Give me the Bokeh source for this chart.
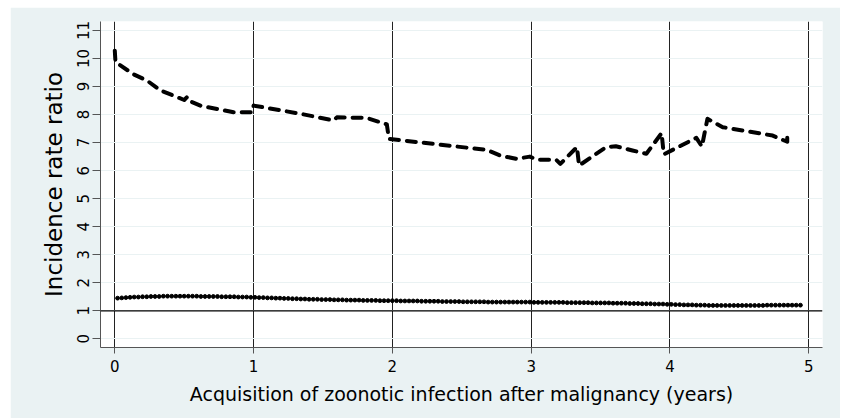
from bokeh.plotting import figure
from bokeh.models import FixedTicker, Span, Range1d
from bokeh.embed import file_html
from bokeh.resources import INLINE

# ---- data ----
x_ticks = [0, 1, 2, 3, 4, 5]
y_ticks = [0, 1, 2, 3, 4, 5, 6, 7, 8, 9, 10, 11]
ref_line_y = 1

irr_x = [0.0, 0.005, 0.137, 0.233, 0.33, 0.50, 0.52, 0.53, 0.617, 0.856, 0.99, 1.0,
         1.336, 1.576, 1.60, 1.816, 1.96, 1.975, 2.68, 2.775, 2.895, 2.99, 3.04,
         3.18, 3.21, 3.33, 3.345, 3.54, 3.61, 3.73, 3.83, 3.94, 3.955, 4.19, 4.23,
         4.27, 4.38, 4.60, 4.74, 4.845, 4.845]
irr_y = [10.28, 9.87, 9.43, 9.21, 8.86, 8.52, 8.62, 8.50, 8.32, 8.08, 8.08, 8.32,
         8.03, 7.79, 7.90, 7.88, 7.65, 7.13, 6.74, 6.54, 6.42, 6.50, 6.39,
         6.39, 6.24, 6.84, 6.18, 6.84, 6.87, 6.72, 6.60, 7.34, 6.58, 7.17, 6.86,
         7.85, 7.55, 7.37, 7.25, 7.03, 7.17]

ref_x = [0.02, 0.05, 0.08, 0.11, 0.14, 0.17, 0.20, 0.23, 0.26, 0.29, 0.32,
         0.35, 0.38, 0.41, 0.44, 0.47, 0.50, 0.53, 0.56, 0.59, 0.62, 0.65,
         0.68, 0.71, 0.74, 0.77, 0.80, 0.83, 0.86, 0.89, 0.92, 0.95, 0.98,
         1.01, 1.04, 1.07, 1.10, 1.13, 1.16, 1.19, 1.22, 1.25, 1.28, 1.31,
         1.34, 1.37, 1.40, 1.43, 1.46, 1.49, 1.52, 1.55, 1.58, 1.61, 1.64,
         1.67, 1.70, 1.73, 1.76, 1.79, 1.82, 1.85, 1.88, 1.91, 1.94, 1.97,
         2.00, 2.03, 2.06, 2.09, 2.12, 2.15, 2.18, 2.21, 2.24, 2.27, 2.30,
         2.33, 2.36, 2.39, 2.42, 2.45, 2.48, 2.51, 2.54, 2.57, 2.60, 2.63,
         2.66, 2.69, 2.72, 2.75, 2.78, 2.81, 2.84, 2.87, 2.90, 2.93, 2.96,
         2.99, 3.02, 3.05, 3.08, 3.11, 3.14, 3.17, 3.20, 3.23, 3.26, 3.29,
         3.32, 3.35, 3.38, 3.41, 3.44, 3.47, 3.50, 3.53, 3.56, 3.59, 3.62,
         3.65, 3.68, 3.71, 3.74, 3.77, 3.80, 3.83, 3.86, 3.89, 3.92, 3.95,
         3.98, 4.01, 4.04, 4.07, 4.10, 4.13, 4.16, 4.19, 4.22, 4.25, 4.28,
         4.31, 4.34, 4.37, 4.40, 4.43, 4.46, 4.49, 4.52, 4.55, 4.58, 4.61,
         4.64, 4.67, 4.70, 4.73, 4.76, 4.79, 4.82, 4.85, 4.88, 4.91, 4.94]
ref_y = [1.45, 1.46, 1.47, 1.48, 1.49, 1.49, 1.50, 1.50, 1.51, 1.51, 1.51,
         1.52, 1.52, 1.52, 1.52, 1.52, 1.52, 1.52, 1.52, 1.52, 1.51, 1.51,
         1.51, 1.51, 1.51, 1.50, 1.50, 1.50, 1.50, 1.49, 1.49, 1.49, 1.48,
         1.48, 1.47, 1.47, 1.46, 1.46, 1.45, 1.45, 1.44, 1.44, 1.43, 1.43,
         1.42, 1.42, 1.41, 1.41, 1.41, 1.40, 1.40, 1.40, 1.39, 1.39, 1.39,
         1.38, 1.38, 1.38, 1.38, 1.37, 1.37, 1.37, 1.37, 1.36, 1.36, 1.36,
         1.36, 1.36, 1.35, 1.35, 1.35, 1.35, 1.35, 1.34, 1.34, 1.34, 1.34,
         1.34, 1.33, 1.33, 1.33, 1.33, 1.33, 1.32, 1.32, 1.32, 1.32, 1.32,
         1.32, 1.31, 1.31, 1.31, 1.31, 1.31, 1.31, 1.31, 1.31, 1.31, 1.31,
         1.31, 1.30, 1.30, 1.30, 1.30, 1.30, 1.30, 1.30, 1.30, 1.29, 1.29,
         1.29, 1.29, 1.29, 1.29, 1.28, 1.28, 1.28, 1.28, 1.28, 1.27, 1.27,
         1.27, 1.27, 1.26, 1.26, 1.26, 1.25, 1.25, 1.25, 1.24, 1.24, 1.24,
         1.23, 1.23, 1.22, 1.22, 1.21, 1.21, 1.21, 1.20, 1.20, 1.20, 1.19,
         1.19, 1.19, 1.19, 1.19, 1.19, 1.19, 1.19, 1.19, 1.19, 1.19, 1.19,
         1.19, 1.19, 1.20, 1.20, 1.20, 1.20, 1.20, 1.20, 1.20, 1.20, 1.20]

BG = "#EAF2F3"
FONT = "DejaVu Sans"

p = figure(width=830, height=411, output_backend="svg", toolbar_location=None,
           x_range=Range1d(-0.103, 5.099), y_range=Range1d(-0.31, 11.32),
           min_border_left=90, min_border_right=18, min_border_top=14, min_border_bottom=71)
p.margin = (7, 0, 0, 10)
p.border_fill_color = BG
p.background_fill_color = "white"
p.outline_line_color = None

# grids
p.xgrid.ticker = FixedTicker(ticks=x_ticks)
p.xgrid.grid_line_color = "#222222"
p.xgrid.grid_line_width = 1
p.ygrid.ticker = FixedTicker(ticks=y_ticks)
p.ygrid.grid_line_color = BG
p.ygrid.grid_line_width = 1

# axes
for ax in (p.xaxis[0], p.yaxis[0]):
    ax.axis_line_color = "#555555"
    ax.major_tick_line_color = "#555555"
    ax.minor_tick_line_color = None
    ax.major_tick_in = 0
    ax.major_label_text_font = FONT
    ax.major_label_text_color = "black"
    ax.axis_label_text_font = FONT
    ax.axis_label_text_font_style = "normal"
    ax.axis_label_text_color = "black"

p.xaxis.ticker = FixedTicker(ticks=x_ticks)
p.xaxis.major_tick_out = 6
p.xaxis.major_label_standoff = 6
p.xaxis.major_label_text_font_size = "15px"
p.xaxis.axis_label = "Acquisition of zoonotic infection after malignancy (years)"
p.xaxis.axis_label_text_font_size = "19px"
p.xaxis.axis_label_standoff = 8

p.yaxis.ticker = FixedTicker(ticks=y_ticks)
p.yaxis.major_tick_out = 8
p.yaxis.major_label_standoff = 3
p.yaxis.major_label_orientation = "vertical"
p.yaxis.major_label_text_font_size = "15px"
p.yaxis.axis_label = "Incidence rate ratio"
p.yaxis.axis_label_text_font_size = "23px"
p.yaxis.axis_label_standoff = 8

# reference line at 1
p.add_layout(Span(location=ref_line_y, dimension="width", line_color="black", line_width=1.3))

# series
p.line(irr_x, irr_y, line_color="black", line_width=4, line_dash="9 8", line_cap="round", line_join="round")
p.scatter(ref_x, ref_y, size=3.8, color="black")

open("out.html", "w").write(file_html(p, INLINE))
